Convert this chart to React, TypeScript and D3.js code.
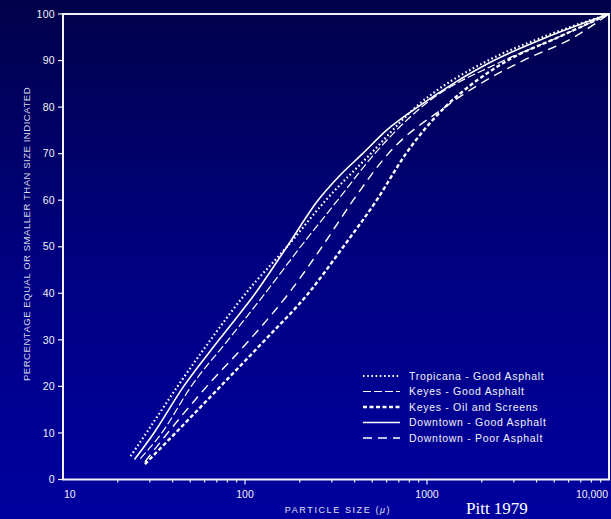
import React from 'react';
import * as d3 from 'd3';

// particle size (microns) vs cumulative percent finer
const pctLevels = [5, 10, 20, 30, 40, 50, 60, 70, 80, 90, 95, 100];

const tropicanaGood = [23.5, 28.7, 42.6, 64.7, 101, 170, 278, 491, 867, 2163, 4315, 10000];
const keyesGoodPct = [4.5, 10, 20, 30, 40, 50, 60, 70, 80, 90, 95, 100];
const keyesGood = [26.6, 34.9, 50.6, 80.9, 129, 202, 323, 516, 933, 2637, 5260, 10000];
const keyesOilPct = [3.3, 10, 20, 30, 40, 50, 60, 70, 80, 85, 90, 95, 100];
const keyesOil = [28.2, 41.5, 73.3, 129, 223, 347, 529, 766, 1256, 1775, 2768, 5260, 10000];
const downtownGoodPct = [4.3, 10, 20, 30, 40, 50, 60, 65, 70, 75, 80, 85, 90, 95, 100];
const downtownGood = [24.7, 31.6, 46, 72, 114, 170, 252, 326, 443, 598, 888, 1386, 2327, 4538, 10000];
const downtownPoorPct = [3.8, 10, 20, 30, 40, 50, 60, 70, 80, 85, 90, 95, 100];
const downtownPoor = [28.2, 37.6, 61.7, 106, 174, 265, 393, 613, 1256, 1958, 3375, 6412, 10000];

const yTicks = [0, 10, 20, 30, 40, 50, 60, 70, 80, 90, 100];
const xLabels = ['10', '100', '1000', '10,000'];

const series = [
  { label: 'Tropicana - Good Asphalt', x: tropicanaGood, y: pctLevels, dash: '1.6,2.6', width: 2.2 },
  { label: 'Keyes - Good Asphalt', x: keyesGood, y: keyesGoodPct, dash: '8,3', width: 1.2 },
  { label: 'Keyes - Oil and Screens', x: keyesOil, y: keyesOilPct, dash: '4,2.5', width: 2.4 },
  { label: 'Downtown - Good Asphalt', x: downtownGood, y: downtownGoodPct, dash: null, width: 1.6 },
  { label: 'Downtown - Poor Asphalt', x: downtownPoor, y: downtownPoorPct, dash: '9,6', width: 1.4 },
];

const W = 611;
const H = 519;
const left = 63;
const right = 609;
const top = 14;
const bottom = 479.5;
const font = '"Liberation Sans", Arial, sans-serif';
const ink = '#f2f2f6';

export default function App() {
  const x = d3.scaleLog().domain([10, 10000]).range([left, right]);
  const y = d3.scaleLinear().domain([0, 100]).range([bottom, top]);

  const line = d3
    .line<[number, number]>()
    .x(d => x(d[0]))
    .y(d => y(d[1]))
    .curve(d3.curveMonotoneX);

  // minor ticks 2..9 in each decade
  const minor: number[] = [];
  [10, 100, 1000].forEach(dec => {
    for (let k = 2; k <= 9; k++) minor.push(dec * k);
  });
  const major = [100, 1000];

  return (
    <div style={{ position: 'absolute', left: 0, top: 0 }}>
      <svg width={W} height={H} style={{ display: 'block' }}>
        <defs>
          <linearGradient id="bg" x1="0" y1="0" x2="0" y2="1">
            <stop offset="0" stopColor="#00004a" />
            <stop offset="0.5" stopColor="#000080" />
            <stop offset="1" stopColor="#0000a0" />
          </linearGradient>
        </defs>
        <rect x={0} y={0} width={W} height={H} fill="url(#bg)" />

        {/* frame */}
        <rect
          x={left}
          y={top}
          width={right - left}
          height={bottom - top}
          fill="none"
          stroke={ink}
          strokeWidth={2}
        />

        {/* y axis */}
        {yTicks.map(t => (
          <g key={t}>
            <line x1={left - 5} x2={left} y1={y(t)} y2={y(t)} stroke={ink} strokeWidth={1.2} />
            <text
              x={55}
              y={y(t)}
              dy="0.35em"
              textAnchor="end"
              fontFamily={font}
              fontSize={10.5}
              fill={ink}
              style={{ letterSpacing: '0.3px' }}
            >
              {t}
            </text>
          </g>
        ))}
        <text
          transform={`translate(30,234) rotate(-90)`}
          textAnchor="middle"
          fontFamily={font}
          fontSize={9.5}
          fill="#d8d8ea"
          style={{ letterSpacing: '0.55px' }}
        >
          PERCENTAGE EQUAL OR SMALLER THAN SIZE INDICATED
        </text>

        {/* x axis */}
        {minor.map(v => (
          <line key={v} x1={x(v)} x2={x(v)} y1={bottom} y2={bottom + 3} stroke={ink} strokeWidth={1.2} />
        ))}
        {major.map(v => (
          <line key={v} x1={x(v)} x2={x(v)} y1={bottom} y2={bottom + 5} stroke={ink} strokeWidth={1.2} />
        ))}
        {[10, 100, 1000, 10000].map((v, i) => (
          <text
            key={v}
            x={i === 0 ? x(v) + 1 : i === 3 ? x(v) - 1 : x(v)}
            y={bottom + 18}
            textAnchor={i === 0 ? 'start' : i === 3 ? 'end' : 'middle'}
            fontFamily={font}
            fontSize={10.5}
            fill={ink}
          >
            {xLabels[i]}
          </text>
        ))}
        <text
          x={338}
          y={513}
          textAnchor="middle"
          fontFamily={font}
          fontSize={9}
          fill="#e0e0ee"
          style={{ letterSpacing: '1.6px' }}
        >
          PARTICLE SIZE (<tspan fontStyle="italic">μ</tspan>)
        </text>

        {/* curves */}
        {series.map(s => (
          <path
            key={s.label}
            d={line(s.x.map((v, i) => [v, s.y[i]] as [number, number])) || ''}
            fill="none"
            stroke="#ffffff"
            strokeWidth={s.width}
            strokeDasharray={s.dash || undefined}
          />
        ))}

        {/* legend */}
        {series.map((s, i) => {
          const ly = 376 + i * 15.5;
          return (
            <g key={s.label}>
              <line
                x1={363}
                x2={400}
                y1={ly}
                y2={ly}
                stroke="#ffffff"
                strokeWidth={s.width}
                strokeDasharray={s.dash || undefined}
              />
              <text
                x={409}
                y={ly}
                dy="0.35em"
                fontFamily={font}
                fontSize={10.5}
                fill={ink}
                style={{ letterSpacing: '0.7px' }}
              >
                {s.label}
              </text>
            </g>
          );
        })}

        <text x={466} y={514} fontFamily='"Liberation Serif", "Times New Roman", serif' fontSize={17} fill="#ffffff">
          Pitt 1979
        </text>
      </svg>
    </div>
  );
}
